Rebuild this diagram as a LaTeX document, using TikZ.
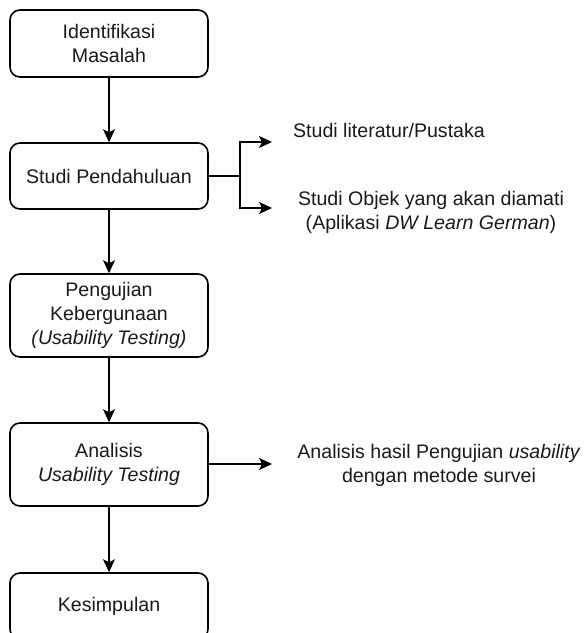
\documentclass[tikz,border=0pt]{standalone}
\usepackage{fontspec}
\setmainfont{Liberation Sans}
\usetikzlibrary{arrows.meta}
\definecolor{txt}{HTML}{1A1A1A}
\tikzset{
  flowbox/.style={draw=black, line width=1.6pt, rounded corners=10pt, minimum width=198pt,
    inner sep=0pt, align=center, text=txt, font=\fontsize{19.6pt}{24pt}\selectfont},
  lbl/.style={inner sep=0pt, align=center, text=txt, font=\fontsize{19.6pt}{24pt}\selectfont},
  conn/.style={draw=black, line width=1.5pt, -{Stealth[length=13pt,width=12pt,inset=3pt]}},
  plain/.style={draw=black, line width=1.5pt}
}
\begin{document}
\begin{tikzpicture}[x=1pt,y=-1pt]
\path[use as bounding box, clip] (0,0) rectangle (585,633);
\node[flowbox, minimum height=67pt] (b1) at (109,43.5) {Identifikasi\\Masalah};
\node[flowbox, minimum height=66pt] (b2) at (109,176) {Studi Pendahuluan};
\node[flowbox, minimum height=83pt] (b3) at (109,315.5) {Pengujian\\Kebergunaan\\\textit{(Usability Testing)}};
\node[flowbox, minimum height=83pt] (b4) at (109,464.5) {Analisis\\\textit{Usability Testing}};
\node[flowbox, minimum height=66pt] (b5) at (109,606) {Kesimpulan};

\node[lbl] (l1) at (389,130) {Studi literatur/Pustaka};
\node[lbl] (l2) at (431,212.5) {Studi Objek yang akan diamati\\(Aplikasi \textit{DW Learn German})};
\node[lbl] (l3) at (439,465) {Analisis hasil Pengujian \textit{usability}\\dengan metode survei};

\coordinate (j) at (240,176);
\coordinate (t1) at (272,142);
\coordinate (t2) at (272,208);
\coordinate (t3) at (272,464);

\draw[conn] (b1) -- (b2);
\draw[conn] (b2) -- (b3);
\draw[conn] (b3) -- (b4);
\draw[conn] (b4) -- (b5);
\draw[plain] (b2.east) -- (j);
\draw[conn] (j) |- (t1);
\draw[conn] (j) |- (t2);
\draw[conn] (b4.east |- t3) -- (t3);
\end{tikzpicture}
\end{document}
